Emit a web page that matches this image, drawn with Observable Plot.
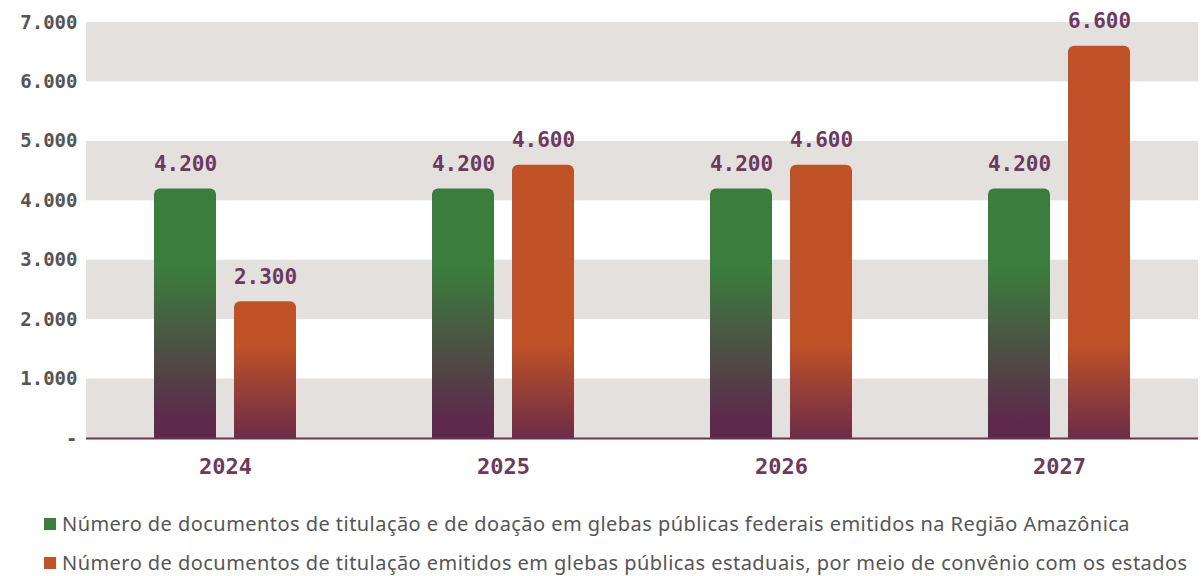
<!DOCTYPE html>
<html>
<head>
<meta charset="utf-8">
<script src="https://cdn.jsdelivr.net/npm/d3@7"></script>
<script src="https://cdn.jsdelivr.net/npm/@observablehq/plot@0.6"></script>
<style>
  body { margin: 0; background: #fff; }
  #chart svg { display: block; }
  .legend { margin-left: 44px; padding-top: 14px; font-family: "Noto Sans", sans-serif; font-size: 20px; letter-spacing: 0.45px; color: #555; }
  .legend .row { display: flex; align-items: center; height: 39px; white-space: nowrap; }
  .legend .sw { width: 12px; height: 12px; margin-right: 6px; flex: none; }
</style>
</head>
<body>
<div id="chart"></div>
<div class="legend" id="legend"></div>
<script>
const years = ["2024", "2025", "2026", "2027"];
const federal = [4200, 4200, 4200, 4200];
const estadual = [2300, 4600, 4600, 6600];
const seriesKeys = ["federal", "estadual"];
const seriesNames = [
  "Número de documentos de titulação e de doação em glebas públicas federais emitidos na Região Amazônica",
  "Número de documentos de titulação emitidos em glebas públicas estaduais, por meio de convênio com os estados"
];
const seriesColors = ["#3a7d3c", "#c05227"];
const yTicks = [0, 1000, 2000, 3000, 4000, 5000, 6000, 7000];
const bandStarts = [0, 2000, 4000, 6000];

const purple = "#6b3a5e";
const fmt = d3.formatLocale({decimal: ",", thousands: ".", grouping: [3], currency: ["", ""]}).format(",");

const data = [];
years.forEach((yr, i) => {
  data.push({year: yr, series: "federal", value: federal[i]});
  data.push({year: yr, series: "estadual", value: estadual[i]});
});
const bands = bandStarts.map(b => ({lo: b, hi: b + 1000}));

const chart = Plot.plot({
  width: 1201,
  height: 490,
  marginLeft: 86,
  marginRight: 3,
  marginTop: 22,
  marginBottom: 52,
  style: {background: "transparent"},
  fx: {domain: years, padding: 0, label: null},
  x: {domain: seriesKeys, paddingInner: 0.225, paddingOuter: 0.85, axis: null},
  y: {domain: [0, 7000], axis: null},
  marks: [
    Plot.rectY(bands, {y1: "lo", y2: "hi", fill: "#e3e0de"}),
    Plot.axisY({ticks: yTicks, tickSize: 0, tickPadding: 9, tickFormat: d => d === 0 ? "-" : fmt(d),
      fontFamily: "DejaVu Sans Mono", fontWeight: "bold", fontSize: 19, fill: "#555", label: null}),
    Plot.axisFx({anchor: "bottom", tickSize: 0, tickPadding: 20,
      fontFamily: "DejaVu Sans Mono", fontWeight: "bold", fontSize: 22, fill: purple, label: null}),
    Plot.barY(data.filter(d => d.series === "federal"), {fx: "year", x: "series", y: "value", fill: "url(#gradFederal)", ry1: 6}),
    Plot.barY(data.filter(d => d.series === "estadual"), {fx: "year", x: "series", y: "value", fill: "url(#gradEstadual)", ry1: 6}),
    Plot.ruleY([0], {stroke: "#6b3358", strokeWidth: 2}),
    Plot.text(data, {fx: "year", x: "series", y: "value", text: d => fmt(d.value), lineAnchor: "bottom", dy: -18,
      fontFamily: "DejaVu Sans Mono", fontWeight: "bold", fontSize: 21, fill: purple})
  ]
});

// gradients in user space, positioned through the y scale
const ys = chart.scale("y");
const yPix = d3.scaleLinear(ys.domain, ys.range);
const svg = d3.select(chart);
const defs = svg.insert("defs", ":first-child");
function grad(id, top, topColor, bottom, bottomColor) {
  const g = defs.append("linearGradient").attr("id", id).attr("gradientUnits", "userSpaceOnUse")
    .attr("x1", 0).attr("x2", 0).attr("y1", yPix(top)).attr("y2", yPix(bottom));
  g.append("stop").attr("offset", 0).attr("stop-color", topColor);
  g.append("stop").attr("offset", 1).attr("stop-color", bottomColor);
}
grad("gradFederal", 2870, seriesColors[0], 300, "#5d2a4b");
grad("gradEstadual", 1600, seriesColors[1], 0, "#6c2c48");

document.getElementById("chart").append(chart);

const legend = d3.select("#legend");
seriesNames.forEach((name, i) => {
  const row = legend.append("div").attr("class", "row");
  row.append("span").attr("class", "sw").style("background", seriesColors[i]);
  row.append("span").text(name);
});
</script>
</body>
</html>
